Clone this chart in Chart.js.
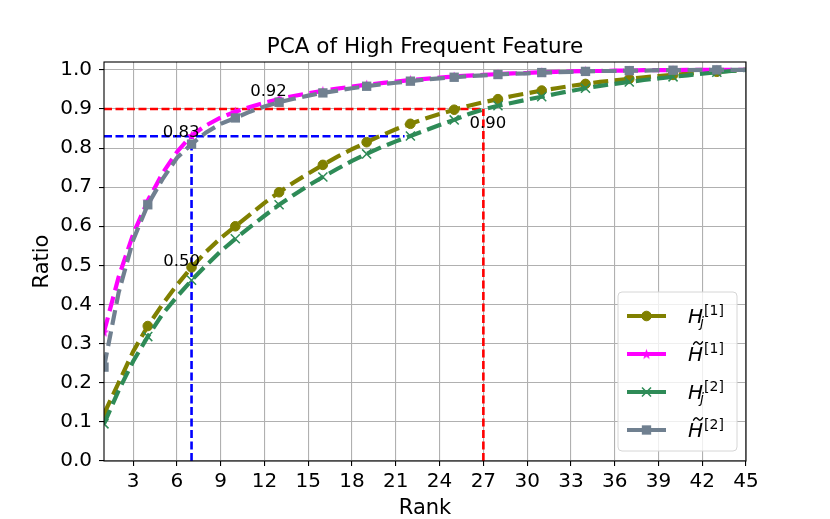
<!DOCTYPE html>
<html>
<head>
<meta charset="utf-8">
<script src="https://cdn.jsdelivr.net/npm/chart.js@4.4.0/dist/chart.umd.min.js"></script>
<style>
  body { margin: 0; background: #fff; }
  #pca { display: block; }
</style>
</head>
<body>
<canvas id="pca" width="830" height="519"></canvas>
<script>
// ranks on the x axis
const ranks = [1, 2, 3, 4, 5, 6, 7, 8, 9, 10, 11, 12, 13, 14, 15, 16, 17, 18, 19, 20, 21, 22, 23,
    24, 25, 26, 27, 28, 29, 30, 31, 32, 33, 34, 35, 36, 37, 38, 39, 40, 41, 42, 43, 44, 45];

// cumulative ratio per series
const hj1 = [0.12, 0.20, 0.28, 0.345, 0.40, 0.45, 0.495, 0.535, 0.57, 0.60, 0.63, 0.66, 0.687, 0.712,
    0.735, 0.757, 0.778, 0.797, 0.815, 0.832, 0.848, 0.862, 0.875, 0.887, 0.898, 0.908, 0.917, 0.925,
    0.933, 0.940, 0.947, 0.953, 0.959, 0.964, 0.969, 0.973, 0.977, 0.981, 0.984, 0.987, 0.990, 0.993,
    0.995, 0.998, 1.0];
const ht1 = [0.33, 0.47, 0.58, 0.665, 0.735, 0.79, 0.832, 0.858, 0.878, 0.893, 0.905, 0.916, 0.925,
    0.933, 0.940, 0.946, 0.952, 0.957, 0.962, 0.966, 0.970, 0.974, 0.977, 0.980, 0.983, 0.985, 0.987,
    0.989, 0.991, 0.992, 0.994, 0.995, 0.996, 0.997, 0.997, 0.998, 0.998, 0.999, 0.999, 0.999, 1.0,
    1.0, 1.0, 1.0, 1.0];
const hj2 = [0.095, 0.18, 0.255, 0.318, 0.375, 0.42, 0.462, 0.50, 0.536, 0.568, 0.598, 0.627, 0.655,
    0.68, 0.704, 0.726, 0.747, 0.767, 0.785, 0.802, 0.817, 0.831, 0.845, 0.859, 0.872, 0.887, 0.899,
    0.908, 0.916, 0.924, 0.931, 0.939, 0.946, 0.953, 0.959, 0.964, 0.969, 0.974, 0.978, 0.982, 0.986,
    0.990, 0.994, 0.997, 1.0];
const ht2 = [0.24, 0.43, 0.565, 0.655, 0.72, 0.775, 0.81, 0.84, 0.862, 0.877, 0.893, 0.906, 0.917,
    0.926, 0.934, 0.941, 0.947, 0.953, 0.958, 0.963, 0.967, 0.971, 0.975, 0.978, 0.981, 0.984, 0.986,
    0.988, 0.990, 0.991, 0.993, 0.994, 0.995, 0.996, 0.997, 0.997, 0.998, 0.998, 0.999, 0.999, 0.999,
    1.0, 1.0, 1.0, 1.0];

const xTicks = [3, 6, 9, 12, 15, 18, 21, 24, 27, 30, 33, 36, 39, 42, 45];
const yTicks = [0, 0.1, 0.2, 0.3, 0.4, 0.5, 0.6, 0.7, 0.8, 0.9, 1.0];

// cut-off guide lines
const cutRatio = [0.83, 0.90];
const cutRank = [7, 27];
const blueReach = 21.6;

// value notes
const noteText = ['0.83', '0.92', '0.50', '0.90'];
const noteRank = [7, 12, 7, 27];
const noteValue = [0.83, 0.92, 0.50, 0.90];

const OLIVE = '#808000', MAGENTA = '#ff00ff', GREEN = '#2e8b57', SLATE = '#708090';
const FONT = "'DejaVu Sans', sans-serif";

function pts(vals) {
    return ranks.map((r, i) => ({ x: r, y: vals[i] }));
}

// matplotlib-like filled star
function makeStar(color, r) {
    const c = document.createElement('canvas');
    c.width = c.height = Math.ceil(r * 2 + 2);
    const g = c.getContext('2d');
    g.translate(c.width / 2, c.height / 2 + 0.5);
    g.beginPath();
    for (let i = 0; i < 10; i++) {
        const rad = i % 2 ? r * 0.4 : r;
        const a = -Math.PI / 2 + i * Math.PI / 5;
        g.lineTo(Math.cos(a) * rad, Math.sin(a) * rad);
    }
    g.closePath();
    g.fillStyle = color;
    g.fill();
    return c;
}
const star = makeStar(MAGENTA, 5.5);

const every3 = r => c => (c.dataIndex % 3 === 0 ? r : 0);
const DASH = [15, 6.5];
const GUIDE = [8, 3.5];

const series = [
    { key: 'hj1', data: hj1, color: OLIVE, style: 'circle', r: 4.8, bw: 1, order: 4, tilde: false, sup: '[1]' },
    { key: 'ht1', data: ht1, color: MAGENTA, style: star, r: 5, bw: 0, order: 3, tilde: true, sup: '[1]' },
    { key: 'hj2', data: hj2, color: GREEN, style: 'crossRot', r: 6.4, bw: 1.5, order: 2, tilde: false, sup: '[2]' },
    { key: 'ht2', data: ht2, color: SLATE, style: 'rect', r: 6.6, bw: 0, order: 1, tilde: true, sup: '[2]' }
];

const datasets = series.map(s => ({
    label: s.key,
    data: pts(s.data),
    borderColor: s.color,
    backgroundColor: s.color,
    borderWidth: 4.2,
    borderDash: DASH,
    pointStyle: s.style,
    pointRadius: every3(s.r),
    pointBorderWidth: s.bw,
    pointBorderColor: s.color,
    pointBackgroundColor: s.color,
    tension: 0,
    order: s.order
}));

function guide(color, a, b) {
    return {
        label: 'guide',
        data: [a, b],
        borderColor: color,
        borderWidth: 2.6,
        borderDash: GUIDE,
        pointRadius: 0,
        order: 10
    };
}
datasets.push(guide('#ff0000', { x: 1, y: cutRatio[1] }, { x: cutRank[1], y: cutRatio[1] }));
datasets.push(guide('#ff0000', { x: cutRank[1], y: 0 }, { x: cutRank[1], y: cutRatio[1] }));
datasets.push(guide('#0000ff', { x: 1, y: cutRatio[0] }, { x: blueReach, y: cutRatio[0] }));
datasets.push(guide('#0000ff', { x: cutRank[0], y: 0 }, { x: cutRank[0], y: cutRatio[0] }));

function drawTilde(ctx, cx, cy) {
    ctx.save();
    ctx.strokeStyle = '#000';
    ctx.lineWidth = 1.4;
    ctx.lineCap = 'round';
    ctx.beginPath();
    ctx.moveTo(cx - 4.5, cy + 1.2);
    ctx.bezierCurveTo(cx - 2.5, cy - 2.5, cx - 1, cy - 1.2, cx, cy);
    ctx.bezierCurveTo(cx + 1, cy + 1.2, cx + 2.5, cy + 2.5, cx + 4.5, cy - 1.2);
    ctx.stroke();
    ctx.restore();
}

const decorations = {
    id: 'decorations',
    beforeDraw(chart) {
        const ctx = chart.ctx;
        ctx.save();
        ctx.fillStyle = '#fff';
        ctx.fillRect(0, 0, chart.width, chart.height);
        ctx.restore();
    },
    afterDatasetsDraw(chart) {
        const ctx = chart.ctx;
        const xs = chart.scales.x, ys = chart.scales.y;
        const a = chart.chartArea;
        ctx.save();

        // value notes
        const offs = [[-10.5, -3.5], [4, -9], [-10, -4], [4.5, 14.5]];
        ctx.font = '16.5px ' + FONT;
        ctx.fillStyle = '#000';
        ctx.textAlign = 'center';
        ctx.textBaseline = 'middle';
        noteText.forEach((t, i) => {
            ctx.fillText(t, xs.getPixelForValue(noteRank[i]) + offs[i][0],
                ys.getPixelForValue(noteValue[i]) + offs[i][1]);
        });

        // frame
        ctx.strokeStyle = '#000';
        ctx.lineWidth = 1.1;
        ctx.strokeRect(a.left, a.top, a.right - a.left, a.bottom - a.top);

        // title + axis titles
        ctx.textBaseline = 'alphabetic';
        ctx.font = '21.5px ' + FONT;
        ctx.fillText('PCA of High Frequent Feature', 425, 53);
        ctx.font = '21px ' + FONT;
        ctx.fillText('Rank', (a.left + a.right) / 2, 514);
        ctx.translate(48, (a.top + a.bottom) / 2);
        ctx.rotate(-Math.PI / 2);
        ctx.fillText('Ratio', 0, 0);
        ctx.restore();

        // legend
        ctx.save();
        const bx = 618, by = 292, bw = 119, bh = 159;
        ctx.beginPath();
        ctx.roundRect(bx, by, bw, bh, 4);
        ctx.fillStyle = 'rgba(255,255,255,0.8)';
        ctx.fill();
        ctx.strokeStyle = '#d6d6d6';
        ctx.lineWidth = 1;
        ctx.stroke();
        const rowY = [316, 354, 392, 430];
        series.forEach((s, i) => {
            const y = rowY[i];
            ctx.strokeStyle = s.color;
            ctx.lineWidth = 4.2;
            ctx.setLineDash([]);
            ctx.beginPath();
            ctx.moveTo(627, y);
            ctx.lineTo(666, y);
            ctx.stroke();
            ctx.fillStyle = s.color;
            ctx.lineWidth = s.bw;
            Chart.helpers.drawPoint(ctx, { pointStyle: s.style, radius: s.r, rotation: 0, borderWidth: s.bw }, 646.5, y);

            const base = y + 6.5;
            ctx.fillStyle = '#000';
            ctx.textAlign = 'left';
            ctx.textBaseline = 'alphabetic';
            ctx.font = 'italic 20px ' + FONT;
            ctx.fillText('H', 688, base);
            const wH = ctx.measureText('H').width;
            if (s.tilde) {
                drawTilde(ctx, 688 + wH / 2 + 2.5, base - 17.5);
            } else {
                ctx.font = 'italic 14px ' + FONT;
                ctx.fillText('j', 700, base + 4);
            }
            ctx.font = '14px ' + FONT;
            ctx.fillText(s.sup, 688 + wH + 1, base - 8);
        });
        ctx.restore();
    }
};

Chart.defaults.font.family = FONT;
Chart.defaults.font.size = 20;
Chart.defaults.color = '#000';

new Chart(document.getElementById('pca'), {
    type: 'line',
    data: { datasets: datasets },
    options: {
        responsive: false,
        animation: false,
        devicePixelRatio: 1,
        layout: { padding: { top: 62, right: 84, left: 0, bottom: 0 } },
        plugins: {
            legend: { display: false },
            tooltip: { enabled: false }
        },
        scales: {
            x: {
                type: 'linear',
                min: 1,
                max: 45,
                afterBuildTicks: sc => { sc.ticks = xTicks.map(v => ({ value: v })); },
                afterFit: sc => { sc.height = 58; },
                ticks: { autoSkip: false, maxRotation: 0, padding: 4, callback: v => String(v) },
                grid: { color: '#b0b0b0', lineWidth: 1.1, tickColor: '#000', tickLength: 5 },
                border: { display: false }
            },
            y: {
                type: 'linear',
                min: 0,
                max: 1.02,
                afterBuildTicks: sc => { sc.ticks = yTicks.map(v => ({ value: v })); },
                afterFit: sc => { sc.width = 104; },
                ticks: { padding: 7, callback: v => v.toFixed(1) },
                grid: { color: '#b0b0b0', lineWidth: 1.1, tickColor: '#000', tickLength: 5 },
                border: { display: false }
            }
        }
    },
    plugins: [decorations]
});
</script>
</body>
</html>
